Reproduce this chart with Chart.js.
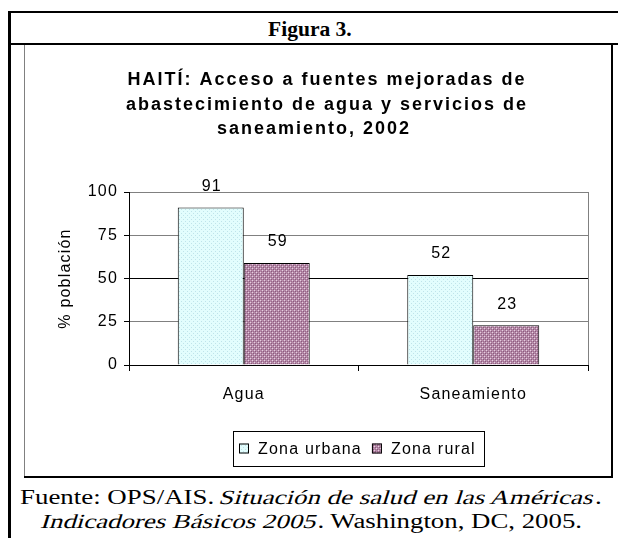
<!DOCTYPE html>
<html><head><meta charset="utf-8">
<script src="https://cdn.jsdelivr.net/npm/chart.js@4"></script>
<style>
html,body{margin:0;padding:0;background:#fff;width:618px;height:538px;overflow:hidden;position:relative}
.l{position:absolute;background:#000}
.t{position:absolute;white-space:nowrap;font-family:"Liberation Serif","Times New Roman",serif;color:#000;transform-origin:0 0;line-height:1}
.it{display:inline-block;transform:skewX(-13deg);font-style:normal}
#wrap{position:absolute;left:25px;top:45px;width:586px;height:431px}
</style></head><body>
<div class="l" style="left:8px;top:11px;width:610px;height:2px"></div>
<div class="l" style="left:8px;top:43px;width:610px;height:2px"></div>
<div class="l" style="left:8px;top:11px;width:3px;height:527px"></div>
<div class="l" style="left:24px;top:45px;width:1px;height:431px;background:#808080"></div>
<div class="l" style="left:611px;top:45px;width:2px;height:433px"></div>
<div class="l" style="left:24px;top:476px;width:589px;height:2px"></div>
<div class="t" id="hdr" style="font-weight:bold;font-size:20px" data-cx="310" data-cy="29" data-w="84">Figura 3.</div>
<div class="t" id="f1" style="font-size:20px" data-cx="311" data-cy="497" data-w="582">Fuente: OPS/AIS. <span class="it">Situación de salud en las Américas</span>.</div>
<div class="t" id="f2" style="font-size:20px" data-cx="312" data-cy="521" data-w="540"><span class="it">Indicadores Básicos 2005</span>. Washington, DC, 2005.</div>
<div id="wrap"><canvas id="c" width="586" height="431"></canvas></div>
<script>
const categories = ['Agua', 'Saneamiento'];
const seriesNames = ['Zona urbana', 'Zona rural'];
const urbana = [91, 52];
const rural = [59, 23];
const yTicks = [0, 25, 50, 75, 100];
const titleLines = ['HAITÍ: Acceso a fuentes mejoradas de', 'abastecimiento de agua y servicios de', 'saneamiento, 2002'];
const yTitle = '% población';

function fitText() {
  document.querySelectorAll('.t').forEach(el => {
    el.style.transform = 'none';
    const w = el.offsetWidth, h = el.offsetHeight;
    const tw = +el.dataset.w, cx = +el.dataset.cx, cy = +el.dataset.cy;
    el.style.left = (cx - tw / 2) + 'px';
    el.style.top = (cy - h / 2) + 'px';
    el.style.transform = 'scaleX(' + (tw / w) + ')';
  });
}

function makePattern(base, marks) {
  const p = document.createElement('canvas');
  p.width = 4; p.height = 4;
  const g = p.getContext('2d');
  g.fillStyle = base; g.fillRect(0, 0, 4, 4);
  marks.forEach(m => { g.fillStyle = m[2]; g.fillRect(m[0], m[1], 1, 1); });
  return document.getElementById('c').getContext('2d').createPattern(p, 'repeat');
}
const patU = makePattern('#e2fdfd', [[0, 0, '#bfe4ea'], [2, 2, '#bfe4ea']]);
const patR = makePattern('#b58aa8', [[0, 0, '#8a5a7c'], [2, 2, '#8a5a7c'], [1, 1, '#e6cfe0'], [3, 3, '#e6cfe0'], [2, 0, '#9c6a8d'], [0, 2, '#9c6a8d']]);

const FONT = '"Liberation Sans", Arial, sans-serif';
const SP = '1.2px';
const FS = 16;

const spacingPlugin = {
  id: 'spacing',
  beforeUpdate(chart) { chart.ctx.letterSpacing = SP; },
  beforeLayout(chart) { chart.ctx.letterSpacing = SP; },
  beforeDraw(chart) { chart.ctx.letterSpacing = SP; }
};

const decoPlugin = {
  id: 'deco',
  beforeDatasetsDraw(chart) {
    const { ctx, chartArea: a } = chart;
    ctx.save();
    ctx.strokeStyle = '#808080'; ctx.lineWidth = 1;
    ctx.beginPath();
    ctx.moveTo(Math.round(a.right) + 0.5, a.top);
    ctx.lineTo(Math.round(a.right) + 0.5, a.bottom);
    ctx.stroke();
    ctx.restore();
  },
  afterDatasetsDraw(chart) {
    const { ctx } = chart;
    ctx.save();
    ctx.letterSpacing = SP;
    ctx.font = FS + 'px ' + FONT;
    ctx.fillStyle = '#000';
    ctx.textAlign = 'center';
    ctx.textBaseline = 'middle';
    chart.data.datasets.forEach((ds, i) => {
      chart.getDatasetMeta(i).data.forEach((el, j) => {
        ctx.fillText(String(ds.data[j]), el.x + 1, el.y - 21);
      });
    });
    ctx.restore();
  },
  afterDraw(chart) {
    const { ctx, chartArea: a } = chart;
    ctx.save();
    // title
    ctx.letterSpacing = '2px';
    ctx.font = 'bold 18px ' + FONT;
    ctx.fillStyle = '#000';
    ctx.textAlign = 'center';
    ctx.textBaseline = 'alphabetic';
    const tx = [302, 302, 289], ty = [40, 64.5, 89];
    titleLines.forEach((t, i) => ctx.fillText(t, tx[i], ty[i]));
    // legend
    ctx.letterSpacing = SP;
    ctx.font = FS + 'px ' + FONT;
    const pats = [patU, patR];
    const widths = seriesNames.map(s => ctx.measureText(s).width);
    const boxW = 6 + 10 + 9 + widths[0] + 10 + 10 + 9 + widths[1] + 8;
    const cx = (a.left + a.right) / 2;
    const bx = Math.round(cx - boxW / 2), by = 386, bh = 35;
    ctx.strokeStyle = '#000'; ctx.lineWidth = 1;
    ctx.strokeRect(bx + 0.5, by + 0.5, Math.round(boxW), bh);
    let x = bx + 6;
    const my = by + bh / 2;
    ctx.textAlign = 'left'; ctx.textBaseline = 'middle';
    seriesNames.forEach((s, i) => {
      ctx.fillStyle = pats[i];
      ctx.fillRect(x, my - 5, 10, 10);
      ctx.strokeRect(x + 0.5, my - 4.5, 9, 9);
      ctx.fillStyle = '#000';
      ctx.fillText(s, x + 19, my + 1);
      x += 19 + widths[i] + 10;
    });
    ctx.restore();
  }
};

function build() {
  fitText();
  new Chart(document.getElementById('c'), {
    type: 'bar',
    data: {
      labels: categories,
      datasets: [
        { label: seriesNames[0], data: urbana, backgroundColor: patU, borderColor: '#000', borderWidth: 1 },
        { label: seriesNames[1], data: rural, backgroundColor: patR, borderColor: '#000', borderWidth: 1 }
      ]
    },
    options: {
      responsive: false,
      animation: false,
      devicePixelRatio: 1,
      layout: { padding: { left: 0, right: 23, top: 147, bottom: 0 } },
      datasets: { bar: { categoryPercentage: 0.575, barPercentage: 1 } },
      plugins: { legend: { display: false }, title: { display: false }, tooltip: { enabled: false } },
      scales: {
        x: {
          grid: { display: true, drawOnChartArea: false, drawTicks: true, tickLength: 6, tickColor: '#000', offset: true },
          border: { color: '#000', width: 1 },
          ticks: { color: '#000', font: { family: FONT, size: FS }, padding: 14, maxRotation: 0 },
          afterFit(s) { s.height = 111; }
        },
        y: {
          min: 0, max: 100,
          afterBuildTicks(s) { s.ticks = yTicks.map(v => ({ value: v })); },
          grid: {
            color: c => (c.tick && (c.tick.value === 50 || c.tick.value === 0)) ? '#000' : '#808080',
            tickLength: 5, tickColor: '#000', lineWidth: 1
          },
          border: { color: '#000', width: 1 },
          ticks: { color: '#000', font: { family: FONT, size: FS }, padding: 6 },
          title: { display: true, text: yTitle, color: '#000', font: { family: FONT, size: FS }, padding: { top: 31, bottom: 0 } },
          afterFit(s) { s.width = 104; }
        }
      }
    },
    plugins: [spacingPlugin, decoPlugin]
  });
}

Promise.all([
  document.fonts.load('16px "Liberation Sans"'),
  document.fonts.load('bold 18px "Liberation Sans"'),
  document.fonts.load('20px "Liberation Serif"'),
  document.fonts.load('bold 20px "Liberation Serif"')
]).then(build, build);
</script>
</body></html>
